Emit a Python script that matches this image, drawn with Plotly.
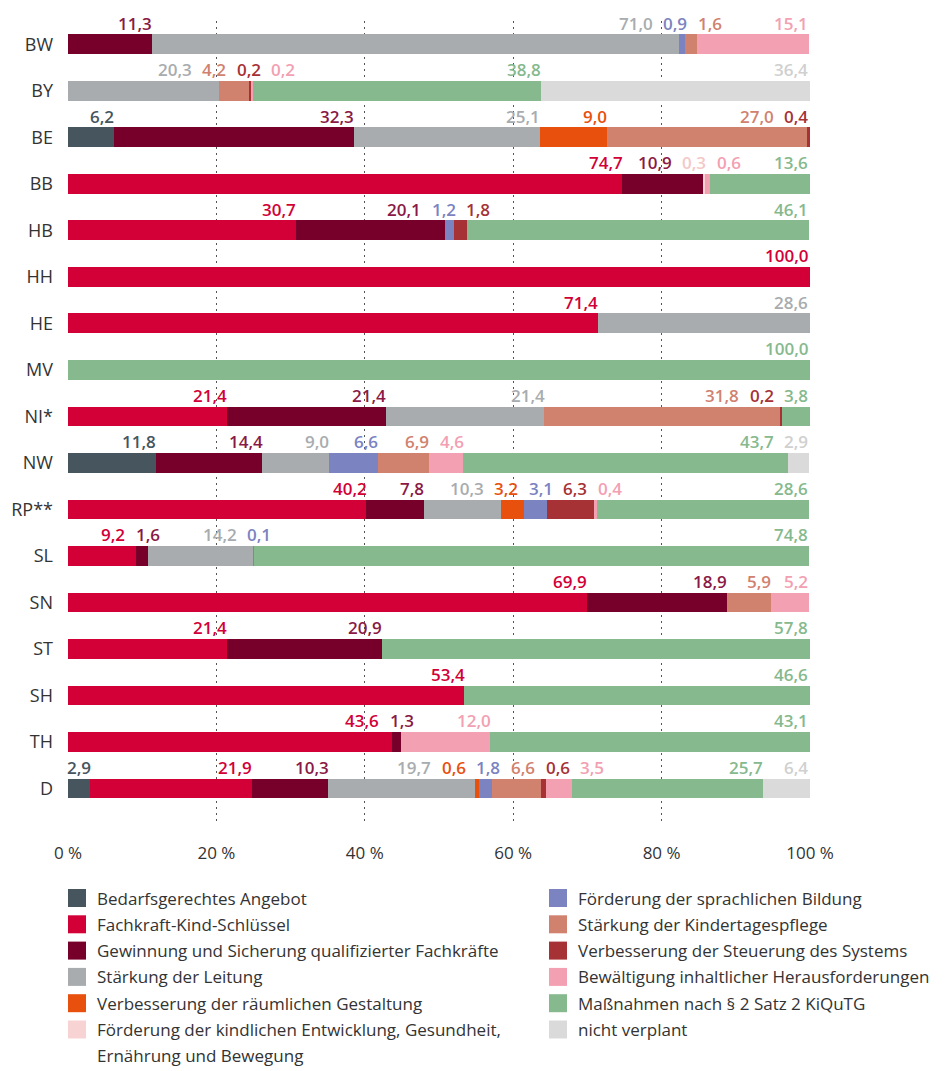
import plotly.graph_objects as go

states = ["BW", "BY", "BE", "BB", "HB", "HH", "HE", "MV", "NI*", "NW",
          "RP**", "SL", "SN", "ST", "SH", "TH", "D"]

categories = [
    "Bedarfsgerechtes Angebot",
    "Fachkraft-Kind-Schlüssel",
    "Gewinnung und Sicherung qualifizierter Fachkräfte",
    "Stärkung der Leitung",
    "Verbesserung der räumlichen Gestaltung",
    "Förderung der kindlichen Entwicklung, Gesundheit, Ernährung und Bewegung",
    "Förderung der sprachlichen Bildung",
    "Stärkung der Kindertagespflege",
    "Verbesserung der Steuerung des Systems",
    "Bewältigung inhaltlicher Herausforderungen",
    "Maßnahmen nach § 2 Satz 2 KiQuTG",
    "nicht verplant",
]

colors = ["#46555e", "#d20037", "#76002a", "#a8acaf", "#e8500e", "#f8d3d3",
          "#7b83c1", "#d0826f", "#a63235", "#f2a0b2", "#86b98e", "#d9dad9"]

label_colors = ["#46555e", "#d20037", "#8a1a45", "#a8acaf", "#e8500e", "#f5c8c8",
                "#7b83c1", "#d0826f", "#a63235", "#f2a0b2", "#86b98e", "#cfd0cf"]

N = None
#            BW    BY    BE    BB    HB    HH     HE    MV     NI*   NW    RP**  SL    SN    ST    SH    TH    D
bedarf     = [N,    N,    6.2,  N,    N,    N,     N,    N,     N,    11.8, N,    N,    N,    N,    N,    N,    2.9]
fachkraft  = [N,    N,    N,    74.7, 30.7, 100.0, 71.4, N,     21.4, N,    40.2, 9.2,  69.9, 21.4, 53.4, 43.6, 21.9]
gewinnung  = [11.3, N,    32.3, 10.9, 20.1, N,     N,    N,     21.4, 14.4, 7.8,  1.6,  18.9, 20.9, N,    1.3,  10.3]
leitung    = [71.0, 20.3, 25.1, N,    N,    N,     28.6, N,     21.4, 9.0,  10.3, 14.2, N,    N,    N,    N,    19.7]
raeumlich  = [N,    N,    9.0,  N,    N,    N,     N,    N,     N,    N,    3.2,  N,    N,    N,    N,    N,    0.6]
kindlich   = [N,    N,    N,    0.3,  N,    N,     N,    N,     N,    N,    N,    N,    N,    N,    N,    N,    N]
sprachlich = [0.9,  N,    N,    N,    1.2,  N,     N,    N,     N,    6.6,  3.1,  0.1,  N,    N,    N,    N,    1.8]
tagespfl   = [1.6,  4.2,  27.0, N,    N,    N,     N,    N,     31.8, 6.9,  N,    N,    5.9,  N,    N,    N,    6.6]
steuerung  = [N,    0.2,  0.4,  N,    1.8,  N,     N,    N,     0.2,  N,    6.3,  N,    N,    N,    N,    N,    0.6]
bewaelt    = [15.1, 0.2,  N,    0.6,  N,    N,     N,    N,     N,    4.6,  0.4,  N,    5.2,  N,    N,    12.0, 3.5]
massnahmen = [N,    38.8, N,    13.6, 46.1, N,     N,    100.0, 3.8,  43.7, 28.6, 74.8, N,    57.8, 46.6, 43.1, 25.7]
nicht      = [N,    36.4, N,    N,    N,    N,     N,    N,     N,    2.9,  N,    N,    N,    N,    N,    N,    6.4]

series = [bedarf, fachkraft, gewinnung, leitung, raeumlich, kindlich,
          sprachlich, tagespfl, steuerung, bewaelt, massnahmen, nicht]

xticks = [0, 20, 40, 60, 80, 100]
xticktext = ["0 %", "20 %", "40 %", "60 %", "80 %", "100 %"]

legend_lines = [
    ["Bedarfsgerechtes Angebot"],
    ["Fachkraft-Kind-Schlüssel"],
    ["Gewinnung und Sicherung qualifizierter Fachkräfte"],
    ["Stärkung der Leitung"],
    ["Verbesserung der räumlichen Gestaltung"],
    ["Förderung der kindlichen Entwicklung, Gesundheit,", "Ernährung und Bewegung"],
    ["Förderung der sprachlichen Bildung"],
    ["Stärkung der Kindertagespflege"],
    ["Verbesserung der Steuerung des Systems"],
    ["Bewältigung inhaltlicher Herausforderungen"],
    ["Maßnahmen nach § 2 Satz 2 KiQuTG"],
    ["nicht verplant"],
]

# ---------------- layout constants ----------------
OFF = 8  # page body margin
W, H = 945 - OFF, 1071 - OFF
ML, MT = 68 - OFF, 21 - OFF
PW, PH = 742, 802
MR = W - ML - PW
MB = H - MT - PH
FONT = "Open Sans, Noto Sans, DejaVu Sans, sans-serif"

fig = go.Figure()
for name, vals, col in zip(categories, series, colors):
    fig.add_trace(go.Bar(
        y=states, x=vals, name=name, orientation="h",
        marker=dict(color=col, line=dict(width=0)),
        showlegend=False, hoverinfo="x+name",
    ))


# ---------------- value labels with overlap avoidance ----------------
def fmt(v):
    return f"{v:.1f}".replace(".", ",")


def text_w(s):
    return sum(4.2 if c == "," else 9.7 for c in s)


GAP = 11.0


def place(desired_right, widths, lo, hi):
    n = len(widths)
    clusters = []

    def position(cl):
        offs = []
        o = 0.0
        for k in cl:
            offs.append(o + widths[k] / 2)
            o += widths[k] + GAP
        total = o - GAP
        start = sum((desired_right[k] - widths[k] / 2) - off for k, off in zip(cl, offs)) / len(cl)
        start = max(lo, min(start, hi - total))
        return start, total, offs

    for i in range(n):
        clusters.append([i])
        while len(clusters) > 1:
            s1, t1, _ = position(clusters[-2])
            s2, t2, _ = position(clusters[-1])
            if s1 + t1 + GAP > s2:
                last = clusters.pop()
                clusters[-1] = clusters[-1] + last
            else:
                break
    centers = [0.0] * n
    for cl in clusters:
        s, t, offs = position(cl)
        for k, off in zip(cl, offs):
            centers[k] = s + off
    return centers


px_per_unit = PW / 100.0
for si, st in enumerate(states):
    items = []
    cum = 0.0
    for ci, vals in enumerate(series):
        v = vals[si]
        if v is None:
            continue
        cum += v
        items.append((fmt(v), min(cum, 100.0) * px_per_unit, label_colors[ci]))
    widths = [text_w(t) for t, _, _ in items]
    centers = place([e for _, e, _ in items], widths, -1, PW - 2)
    for (t, _, c), cx in zip(items, centers):
        fig.add_annotation(
            x=cx / px_per_unit, y=st, xref="x", yref="y",
            text=t, showarrow=False, xanchor="center", yanchor="middle",
            yshift=21, font=dict(family=FONT, size=17, color=c, weight=600),
        )


# ---------------- legend (two columns) ----------------
def xp(px):
    return (px - OFF - ML) / PW


def yp(py):
    return (MT + PH - (py - OFF)) / PH


row0 = 898.0
row_step = 26.3
sq = 18
cols_x = [(68, 95), (549, 576)]
for idx, lines in enumerate(legend_lines):
    col = idx // 6
    row = idx % 6
    sx, tx = cols_x[col]
    cy = row0 + row * row_step
    fig.add_shape(type="rect", xref="paper", yref="paper",
                  x0=xp(sx), x1=xp(sx + sq), y0=yp(cy + sq / 2), y1=yp(cy - sq / 2),
                  fillcolor=colors[idx], line=dict(width=0), layer="above")
    for li, line in enumerate(lines):
        fig.add_annotation(x=xp(tx), y=yp(cy + li * row_step), xref="paper", yref="paper",
                           text=line, showarrow=False, xanchor="left", yanchor="middle",
                           font=dict(family=FONT, size=17, color="#333333"))

fig.update_layout(
    width=W, height=H,
    margin=dict(l=ML, r=MR, t=MT, b=MB, pad=0, autoexpand=False),
    barmode="stack", bargap=0.576,
    plot_bgcolor="white", paper_bgcolor="white",
    showlegend=False,
    font=dict(family=FONT, color="#333333"),
    xaxis=dict(range=[0, 100], tickvals=xticks, ticktext=xticktext, automargin=False,
               showgrid=True, gridcolor="#555555", gridwidth=1, griddash="2px,4px",
               zeroline=False, showline=False, ticks="",
               ticklabelstandoff=18, tickfont=dict(size=17, color="#333333")),
    yaxis=dict(autorange="reversed", showgrid=False, zeroline=False, showline=False,
               automargin=False,
               ticks="", ticklabelstandoff=14, tickfont=dict(size=18, color="#333333")),
)

fig.write_html("out.html")
